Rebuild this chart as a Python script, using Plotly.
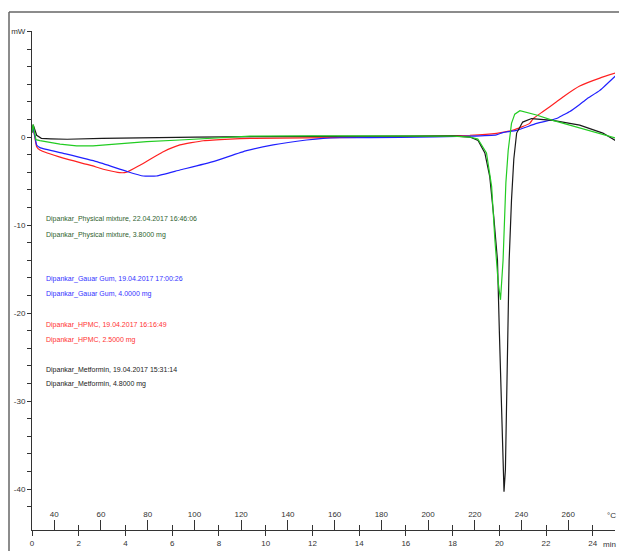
import plotly.graph_objects as go

# ---- data (time in min, heat flow in mW) ----
t_met = [0, 0.05, 0.2, 0.4, 0.8, 1.5, 3, 5, 7, 10, 14, 18, 18.74, 19.09, 19.38, 19.59, 19.76, 19.88,
         19.92, 20.0, 20.1, 20.2, 20.26, 20.31, 20.38, 20.42, 20.52, 20.62, 20.74, 21.0, 21.38, 22.29,
         23.44, 24.43, 25.03]
v_met = [0.5, 1.4, 0.2, -0.15, -0.2, -0.25, -0.15, -0.05, 0.0, 0.05, 0.1, 0.12, 0.0, -0.4, -1.8, -4.5,
         -9.0, -12.8, -14.0, -22.0, -32.0, -40.3, -37.8, -29.1, -18.5, -14.0, -7.2, -2.5, 0.45, 1.7, 2.1,
         1.9, 1.36, 0.45, -0.5]

t_pm = [0, 0.05, 0.17, 0.34, 1.2, 1.91, 2.61, 3.62, 4.91, 6.33, 7.9, 9.33, 12, 15, 18.0, 18.74, 19.08,
        19.45, 19.67, 19.81, 19.95, 20.05, 20.16, 20.28, 20.38, 20.52, 20.66, 20.88, 21.2, 21.59, 22.29,
        23.44, 24.43, 25.01]
v_pm = [0.5, 1.4, -0.3, -0.4, -0.8, -1.0, -1.0, -0.8, -0.53, -0.34, -0.08, 0.1, 0.12, 0.12, 0.1, 0.0,
        -0.23, -1.8, -5.6, -11.7, -16.5, -18.5, -14.0, -5.2, -1.5, 1.55, 2.6, 3.0, 2.8, 2.5, 1.9, 1.0,
        0.23, -0.15]

t_gg = [0, 0.05, 0.2, 0.34, 1.34, 2.77, 4.05, 4.76, 5.33, 6.33, 7.75, 9.18, 10.32, 11.75, 12.46, 13.18,
        15.74, 18.74, 19.87, 20.15, 20.74, 21.6, 22.45, 22.73, 23.02, 23.44, 23.73, 24.3, 25.01]
v_gg = [0.8, 1.0, -0.9, -1.2, -1.85, -2.8, -3.9, -4.43, -4.43, -3.75, -2.8, -1.55, -0.9, -0.34, -0.15,
        -0.08, -0.05, 0.1, 0.25, 0.5, 0.75, 1.55, 2.1, 2.5, 2.9, 3.7, 4.3, 5.3, 7.05]

t_hp = [0, 0.05, 0.2, 0.34, 1.34, 2.48, 3.19, 3.76, 4.05, 4.62, 5.62, 6.33, 7.33, 8.47, 9.33, 14, 18.74,
        19.88, 20.6, 21.3, 21.45, 21.87, 22.45, 22.8, 23.44, 24.3, 25.01]
v_hp = [0.6, 1.0, -1.1, -1.48, -2.4, -3.2, -3.75, -4.05, -4.0, -3.2, -1.67, -0.9, -0.42, -0.23, -0.15,
        -0.05, 0.2, 0.42, 0.8, 1.55, 2.1, 2.9, 4.0, 4.7, 5.8, 6.7, 7.3]

min_ticks = [0, 2, 4, 6, 8, 10, 12, 14, 16, 18, 20, 22, 24]
temp_ticks = [40, 60, 80, 100, 120, 140, 160, 180, 200, 220, 240, 260]
T_START = 30.5   # °C at t = 0
RATE = 10.0      # K/min
X_END = 24.95
Y_RANGE = [-44.66, 12.05]
y_tickvals = [12, 0, -10, -20, -30, -40]
y_ticktext = ["mW", "0", "-10", "-20", "-30", "-40"]

legend_lines = [
    ("Dipankar_Physical mixture, 22.04.2017 16:46:06", "#2f5f2f"),
    ("Dipankar_Physical mixture, 3.8000 mg", "#2f5f2f"),
    ("Dipankar_Gauar Gum, 19.04.2017 17:00:26", "#3333ff"),
    ("Dipankar_Gauar Gum, 4.0000 mg", "#3333ff"),
    ("Dipankar_HPMC, 19.04.2017 16:16:49", "#ff3333"),
    ("Dipankar_HPMC, 2.5000 mg", "#ff3333"),
    ("Dipankar_Metformin, 19.04.2017 15:31:14", "#222222"),
    ("Dipankar_Metformin, 4.8000 mg", "#222222"),
]
legend_px_y = [219, 235, 279, 294, 325, 340, 370, 384]

FONT = "Liberation Sans Narrow, Arial Narrow, Liberation Sans, Arial, sans-serif"
W, H = 619, 551
L, R, T, B = 32, 4, 31, 21
PW, PH = W - L - R, H - T - B

fig = go.Figure()
series = [
    (t_hp, v_hp, "#ff2020", "spline"),
    (t_gg, v_gg, "#2020ff", "spline"),
    (t_met, v_met, "#1a1a1a", "linear"),
    (t_pm, v_pm, "#22cc22", "linear"),
]
for tx, vy, col, shape in series:
    fig.add_trace(go.Scatter(x=tx, y=vy, mode="lines",
                             line=dict(color=col, width=1.2, shape=shape, smoothing=0.4),
                             showlegend=False, hoverinfo="skip", cliponaxis=True))

# dummy traces to activate overlay axes
fig.add_trace(go.Scatter(x=[0, X_END], y=[None, None], xaxis="x2", showlegend=False, hoverinfo="skip"))
fig.add_trace(go.Scatter(x=[0, X_END], y=[None, None], xaxis="x3", showlegend=False, hoverinfo="skip"))

tick_font = dict(family=FONT, size=8, color="#333333")

fig.update_layout(
    width=W, height=H,
    margin=dict(l=L, r=R, t=T, b=B, pad=0),
    paper_bgcolor="white", plot_bgcolor="white",
    xaxis=dict(range=[0, X_END], tickmode="array",
               tickvals=min_ticks, ticktext=[str(v) for v in min_ticks],
               ticks="outside", ticklen=5, tickcolor="#333", showline=True, linecolor="#333",
               linewidth=1, showgrid=False, zeroline=False, tickfont=tick_font),
    xaxis2=dict(range=[0, X_END], overlaying="x", anchor="y", side="bottom", tickmode="array",
                tickvals=[(T - T_START) / RATE for T in temp_ticks] + [X_END - 0.02],
                ticktext=[str(T) for T in temp_ticks] + [""],
                ticks="inside", ticklen=10, ticklabelposition="inside", tickcolor="#333",
                showline=False, showgrid=False, zeroline=False, tickfont=tick_font),
    xaxis3=dict(range=[0, X_END], overlaying="x", anchor="y", side="bottom", tickmode="array",
                tickvals=min_ticks, ticks="inside", ticklen=5, tickcolor="#333",
                showticklabels=False, showline=False, showgrid=False, zeroline=False),
    yaxis=dict(range=Y_RANGE, tickmode="array", tickvals=y_tickvals, ticktext=y_ticktext,
               ticks="outside", ticklen=4, tickcolor="#333", showline=True, linecolor="#333",
               linewidth=1, showgrid=False, zeroline=False, tickfont=tick_font,
               minor=dict(tickmode="linear", tick0=0, dtick=2, ticks="outside", ticklen=4,
                          tickcolor="#333", showgrid=False)),
)

# unit labels at the end of the time / temperature scales
fig.add_annotation(x=(618 - L) / PW, y=(H - B - 544) / PH, xref="paper", yref="paper", text="min",
                   showarrow=False, xanchor="right", yanchor="middle", font=tick_font)
fig.add_annotation(x=(618 - L) / PW, y=(H - B - 515) / PH, xref="paper", yref="paper", text="°C",
                   showarrow=False, xanchor="right", yanchor="middle", font=tick_font)

# legend text
for (txt, col), py in zip(legend_lines, legend_px_y):
    fig.add_annotation(x=(44 - L) / PW, y=(H - B - py) / PH, xref="paper", yref="paper",
                       text=txt, showarrow=False, xanchor="left", yanchor="middle",
                       font=dict(family=FONT, size=7, color=col))

# outer frame (top and left borders)
fx = (9 - L) / PW
fy_top = (H - B - 12) / PH
fy_bot = (H - B - (H + 5)) / PH
fig.add_shape(type="line", xref="paper", yref="paper", x0=fx, x1=(W + 5 - L) / PW, y0=fy_top, y1=fy_top,
              line=dict(color="#666666", width=1.5))
fig.add_shape(type="line", xref="paper", yref="paper", x0=fx, x1=fx, y0=fy_top, y1=fy_bot,
              line=dict(color="#666666", width=1.5))

fig.write_html("out.html")
